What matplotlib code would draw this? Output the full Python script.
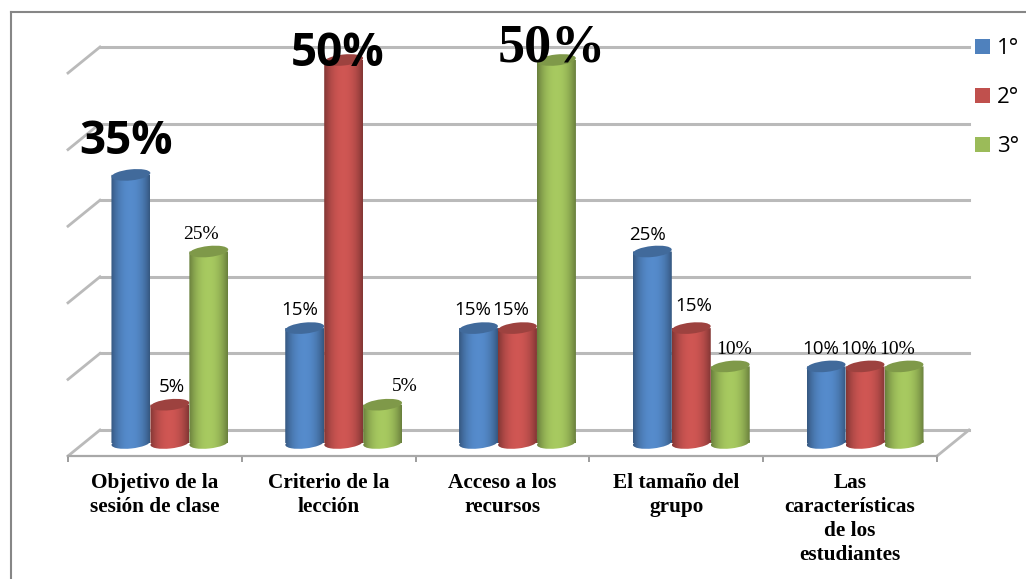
import numpy as np
import matplotlib
matplotlib.use("Agg")
import matplotlib.pyplot as plt
from matplotlib.patches import Ellipse, Patch, PathPatch
from matplotlib.path import Path
from matplotlib.colors import to_rgb
from matplotlib.transforms import offset_copy, IdentityTransform

categories = ["Objetivo de la\nsesión de clase", "Criterio de la\nlección", "Acceso a los\nrecursos",
              "El tamaño del\ngrupo", "Las\ncaracterísticas\nde los\nestudiantes"]
serie_1 = [35, 15, 15, 25, 10]
serie_2 = [5, 50, 15, 15, 10]
serie_3 = [25, 5, 50, 10, 10]
series_names = ["1°", "2°", "3°"]
colors = ["#4F81BD", "#C0504D", "#9BBB59"]
grid_values = [0, 10, 20, 30, 40, 50]

W, H = 1026, 579
PX = 7.66  # pixels per percent
fig = plt.figure(figsize=(W / 100, H / 100), dpi=100)
ax = fig.add_axes([68 / W, (H - 456) / H, 869 / W, 456 / H])
ax.set_xlim(-0.5, 4.5)
ax.set_ylim(-13 / PX, 443 / PX)
ax.set_autoscale_on(False)

# the "3d" back wall and the floor
back = offset_copy(ax.transData, fig, x=32, y=13, units="dots")
front = offset_copy(ax.transData, fig, x=0, y=-13, units="dots")
grid_col = "#bababa"
for g in grid_values:
    ax.plot([-0.5, 4.5], [g, g], color=grid_col, lw=2.2, transform=back, clip_on=False, zorder=1)
    p0 = front.transform((-0.5, g))
    p1 = back.transform((-0.5, g))
    ax.plot([p0[0], p1[0]], [p0[1], p1[1]], color=grid_col, lw=2, transform=None, clip_on=False, zorder=1)
p0 = front.transform((4.5, 0))
p1 = back.transform((4.5, 0))
ax.plot([p0[0], p1[0]], [p0[1], p1[1]], color=grid_col, lw=2, transform=None, clip_on=False, zorder=1)

bar_w = 39 / 174
group_off = 15 / 174
shade = np.abs(np.linspace(-1, 1, 64))
TILT = 6  # the cylinder ends lean a bit in the picture
CAP = 11


def cylinder(x, v, col, z):
    rgb = np.array(to_rgb(col))
    light = np.clip(rgb * 1.08, 0, 1)
    dark = rgb * 0.68
    t = (shade ** 2.2)[None, :, None]
    img = light * (1 - t) + dark * t
    # clip outline is worked out in pixels, so the tilt is not stretched by the data scale
    xl, y0 = ax.transData.transform((x - bar_w / 2, 0))
    xr, y1 = ax.transData.transform((x + bar_w / 2, v))
    xc = (xl + xr) / 2
    rect = Path([(xl, y0), (xr, y0), (xr, y1), (xl, y1), (xl, y0)], closed=True)
    e = Ellipse((xc, y0), xr - xl, CAP, angle=TILT)
    base = e.get_path().transformed(e.get_patch_transform())
    clip = PathPatch(Path.make_compound_path(rect, base), transform=IdentityTransform(), fc="none", ec="none")
    ax.add_patch(clip)
    im = ax.imshow(img, extent=(x - bar_w / 2, x + bar_w / 2, -10 / PX, v), aspect="auto", zorder=z,
                   interpolation="bilinear")
    im.set_clip_path(clip)
    ax.add_patch(Ellipse((xc, y1), xr - xl, CAP, angle=TILT, transform=IdentityTransform(), fc=rgb * 0.82,
                         ec="none", zorder=z + 0.1, clip_on=False))


for i, vals in enumerate(zip(serie_1, serie_2, serie_3)):
    for j, v in enumerate(vals):
        cylinder(i + group_off + (j - 1) * bar_w, v, colors[j], 3 + j)

# data labels, they are not styled alike in the picture
sans = "Open Sans"
serif = "Liberation Serif"
label_style = {
    (0, 0): (sans, 33, "bold", -5, 33), (0, 1): (sans, 13.5, "normal", 2, 18), (0, 2): (serif, 14, "normal", -8, 17),
    (1, 0): (sans, 13.5, "normal", -5, 18), (1, 1): (sans, 33, "bold", -6, 6), (1, 2): (serif, 14, "normal", 22, 18),
    (2, 0): (sans, 13.5, "normal", -6, 18), (2, 1): (sans, 13.5, "normal", -7, 18), (2, 2): (serif, 39, "bold", -5, 12),
    (3, 0): (sans, 13.5, "normal", -5, 17), (3, 1): (sans, 13.5, "normal", 2, 22), (3, 2): (serif, 14, "normal", 4, 17),
    (4, 0): (sans, 13.5, "normal", -5, 17), (4, 1): (sans, 13.5, "normal", -6, 17), (4, 2): (serif, 14, "normal", -7, 17),
}
for i, vals in enumerate(zip(serie_1, serie_2, serie_3)):
    for j, v in enumerate(vals):
        fam, size, weight, dx, dy = label_style[(i, j)]
        ax.annotate(f"{v}%", (i + group_off + (j - 1) * bar_w, v), xytext=(dx, dy), textcoords="offset pixels",
                    ha="center", va="center", family=fam, fontsize=size, fontweight=weight, color="black",
                    annotation_clip=False, zorder=10)

# axis
for s in ["top", "left", "right"]:
    ax.spines[s].set_visible(False)
ax.spines["bottom"].set_color("#a8a8a8")
ax.spines["bottom"].set_linewidth(1.6)
ax.patch.set_alpha(0)
ax.set_yticks([])
ax.set_xticks(range(5))
ax.set_xticklabels(categories, family=serif, fontweight="bold", fontsize=15.3, linespacing=1.27, color="black")
ax.tick_params(axis="x", which="major", length=0, pad=12)
ax.set_xticks(np.arange(-0.5, 5, 1), minor=True)
ax.tick_params(axis="x", which="minor", length=4, width=1.2, color="#8c8c8c")

handles = [Patch(fc=c, ec="none") for c in colors]
fig.legend(handles, series_names, loc="upper left", bbox_to_anchor=(975 / W, 1 - 38 / H), frameon=False,
           prop={"family": "Open Sans", "size": 16}, handlelength=0.68, handleheight=0.68, handletextpad=0.3,
           labelspacing=1.27, borderpad=0, borderaxespad=0)

# outer frame of the picture, only top and left show
frame = "#868686"
fig.add_artist(plt.Line2D([11 / W, 1], [1 - 12 / H, 1 - 12 / H], color=frame, lw=1.5))
fig.add_artist(plt.Line2D([11 / W, 11 / W], [0, 1 - 12 / H], color=frame, lw=1.5))

fig.savefig("out.png", dpi=100)
